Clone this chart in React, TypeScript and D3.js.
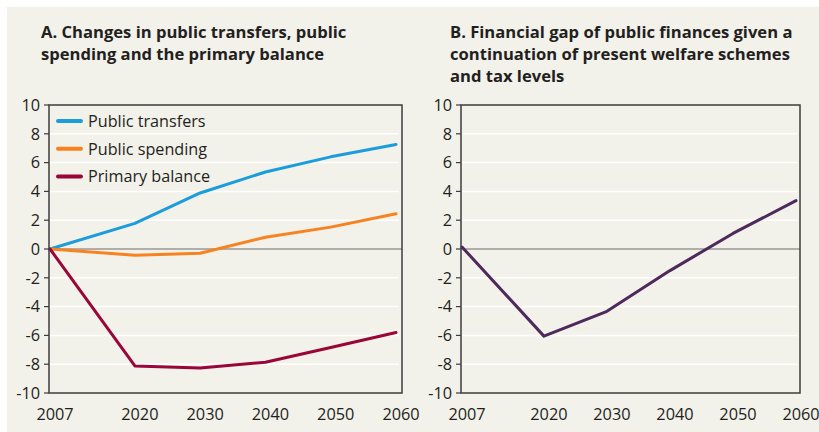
import * as React from 'react';
import * as d3 from 'd3';

const years = [2007, 2020, 2030, 2040, 2050, 2060];
const yTicks = [10, 8, 6, 4, 2, 0, -2, -4, -6, -8, -10];

const transfers = [0, 1.78, 3.89, 5.35, 6.4, 7.26];
const spending = [0, -0.43, -0.29, 0.82, 1.52, 2.45];
const primary = [0, -8.12, -8.26, -7.86, -6.84, -5.8];
const gap = [0.14, -6.05, -4.33, -1.5, 1.08, 3.36];

const seriesA = [
  { name: 'Public transfers', values: transfers, color: '#1b9ddb' },
  { name: 'Public spending', values: spending, color: '#f7821f' },
  { name: 'Primary balance', values: primary, color: '#99063a' },
];
const seriesB = [{ name: 'Financial gap', values: gap, color: '#4e2a5c' }];

const titleA = ['A. Changes in public transfers, public', 'spending and the primary balance'];
const titleB = [
  'B. Financial gap of public finances given a',
  'continuation of present welfare schemes',
  'and tax levels',
];

const font = '"Open Sans", sans-serif';
const textColor = '#231f20';

type Series = { name: string; values: number[]; color: string };

function Panel(props: {
  left: number; right: number; x0: number; x1: number; titleX: number;
  title: string[]; series: Series[]; legend?: boolean;
}) {
  const { left, right, x0, x1, titleX, title, series, legend } = props;
  const top = 105;
  const bottom = 393;
  const x = d3.scaleLinear().domain([2007, 2060]).range([x0, x1]);
  const y = d3.scaleLinear().domain([-10, 10]).range([bottom, top]);
  const line = d3.line<number>()
    .x((_, i) => x(years[i]))
    .y(d => y(d));

  return (
    <g>
      {title.map((t, i) => (
        <text key={i} x={titleX} y={38 + i * 22} fontFamily={font} fontWeight="bold"
          fontSize={16.6} fill={textColor}>{t}</text>
      ))}
      {/* white grid lines */}
      {yTicks.filter(t => t !== 0 && t !== 10 && t !== -10).map(t => (
        <line key={t} x1={left} x2={right - 3} y1={y(t)} y2={y(t)} stroke="#ffffff" strokeWidth={1.5} />
      ))}
      <line x1={left} x2={right} y1={y(0)} y2={y(0)} stroke="#6d6d6d" strokeWidth={1.2} />
      {series.map(s => (
        <path key={s.name} d={line(s.values) || ''} fill="none" stroke={s.color}
          strokeWidth={3} strokeLinejoin="round" strokeLinecap="round" />
      ))}
      <rect x={left} y={top} width={right - left} height={bottom - top}
        fill="none" stroke="#3d3d3d" strokeWidth={1.5} />
      {yTicks.map(t => (
        <g key={t}>
          <line x1={left - 5} x2={left} y1={y(t)} y2={y(t)} stroke="#3d3d3d" strokeWidth={1.2} />
          <text x={left - 9} y={y(t)} dy="0.36em" textAnchor="end" fontFamily={font}
            fontSize={16.3} fill={textColor}>{t}</text>
        </g>
      ))}
      {years.map(yr => (
        <text key={yr} x={x(yr) + 5} y={420} textAnchor="middle" fontFamily={font}
          fontSize={16.3} fill={textColor}>{yr}</text>
      ))}
      {legend && series.map((s, i) => (
        <g key={s.name}>
          <line x1={58} x2={81} y1={121 + i * 27.7} y2={121 + i * 27.7} stroke={s.color}
            strokeWidth={4} strokeLinecap="round" />
          <text x={88} y={121 + i * 27.7} dy="0.36em" fontFamily={font} fontSize={16.2}
            fill={textColor}>{s.name}</text>
        </g>
      ))}
    </g>
  );
}

export default function App() {
  return (
    <svg width={819} height={432} style={{ position: 'absolute', left: 0, top: 0 }}>
      <rect x={0} y={0} width={819} height={432} fill="#ffffff" />
      <rect x={7} y={7} width={812} height={425} fill="#f2f1ea" />
      <Panel left={49} right={402} x0={50} x1={396} titleX={41} title={titleA}
        series={seriesA} legend />
      <Panel left={461} right={800} x0={462} x1={796} titleX={450} title={titleB}
        series={seriesB} />
    </svg>
  );
}
